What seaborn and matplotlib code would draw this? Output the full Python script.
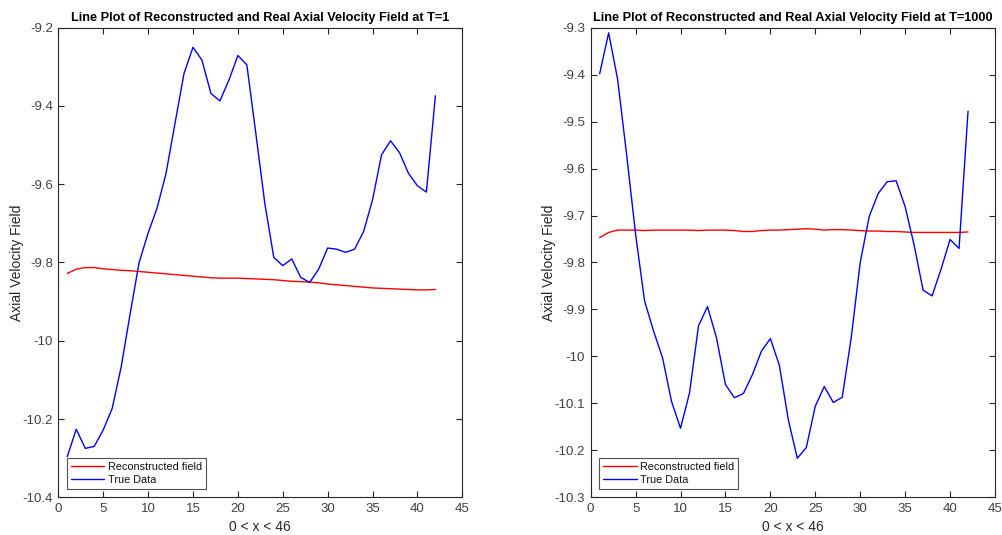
import numpy as np
import pandas as pd
import matplotlib
matplotlib.use("Agg")
import matplotlib.pyplot as plt
import seaborn as sns

# Grid positions along the axis
x_pos = list(range(1, 43))

# T=1 snapshot
recon_t1 = [-9.828, -9.817, -9.813, -9.813, -9.816, -9.818, -9.820, -9.821, -9.823, -9.825,
            -9.827, -9.829, -9.831, -9.833, -9.835, -9.837, -9.839, -9.840, -9.840, -9.840,
            -9.841, -9.842, -9.843, -9.844, -9.846, -9.848, -9.849, -9.850, -9.852, -9.855,
            -9.857, -9.859, -9.861, -9.863, -9.865, -9.866, -9.867, -9.868, -9.869, -9.870,
            -9.870, -9.869]
true_t1 = [-10.296, -10.226, -10.275, -10.270, -10.228, -10.173, -10.067, -9.931, -9.800, -9.725,
           -9.661, -9.572, -9.444, -9.317, -9.250, -9.283, -9.368, -9.387, -9.334, -9.271,
           -9.295, -9.470, -9.649, -9.787, -9.808, -9.791, -9.838, -9.851, -9.817, -9.763,
           -9.766, -9.774, -9.766, -9.721, -9.640, -9.525, -9.489, -9.519, -9.572, -9.604,
           -9.620, -9.374]

# T=1000 snapshot
recon_t1000 = [-9.747, -9.736, -9.731, -9.731, -9.731, -9.732, -9.731, -9.731, -9.731, -9.731,
               -9.731, -9.732, -9.731, -9.731, -9.731, -9.732, -9.734, -9.734, -9.732, -9.731,
               -9.731, -9.730, -9.729, -9.728, -9.729, -9.731, -9.730, -9.730, -9.731, -9.732,
               -9.733, -9.733, -9.734, -9.734, -9.735, -9.736, -9.736, -9.736, -9.736, -9.736,
               -9.736, -9.735]
true_t1000 = [-9.398, -9.311, -9.410, -9.570, -9.740, -9.882, -9.946, -10.003, -10.096, -10.153,
              -10.078, -9.935, -9.894, -9.960, -10.060, -10.088, -10.079, -10.039, -9.989, -9.962,
              -10.019, -10.135, -10.217, -10.194, -10.106, -10.064, -10.098, -10.087, -9.960, -9.800,
              -9.702, -9.653, -9.628, -9.626, -9.681, -9.763, -9.859, -9.871, -9.814, -9.751,
              -9.770, -9.478]

series_names = ["Reconstructed field", "True Data"]
titles = ["Line Plot of Reconstructed and Real Axial Velocity Field at T=1",
          "Line Plot of Reconstructed and Real Axial Velocity Field at T=1000"]
x_ticks = [0, 5, 10, 15, 20, 25, 30, 35, 40, 45]
y_ticks_t1 = [-10.4, -10.2, -10.0, -9.8, -9.6, -9.4, -9.2]
y_ticks_t1000 = [-10.3, -10.2, -10.1, -10.0, -9.9, -9.8, -9.7, -9.6, -9.5, -9.4, -9.3]

sns.set_style("white")
plt.rcParams["font.family"] = ["Liberation Sans", "DejaVu Sans"]

fig = plt.figure(figsize=(10.02, 5.35), dpi=100)
ax1 = fig.add_axes([0.0582, 0.0705, 0.4032, 0.8777])
ax2 = fig.add_axes([0.5895, 0.0705, 0.4035, 0.8777])

palette = {"Reconstructed field": "#ff0000", "True Data": "#0000ff"}

panels = [
    (ax1, recon_t1, true_t1, titles[0], y_ticks_t1),
    (ax2, recon_t1000, true_t1000, titles[1], y_ticks_t1000),
]

for ax, recon, true, title, yt in panels:
    df = pd.DataFrame({
        "x": x_pos * 2,
        "value": recon + true,
        "series": [series_names[0]] * len(recon) + [series_names[1]] * len(true),
    })
    sns.lineplot(data=df, x="x", y="value", hue="series", palette=palette,
                 hue_order=series_names, linewidth=1.0, ax=ax, legend=True)
    ax.set_xlim(0, 45)
    ax.set_ylim(yt[0], yt[-1])
    ax.set_xticks(x_ticks)
    ax.set_xticklabels([str(t) for t in x_ticks])
    ax.set_yticks(yt)
    ax.set_yticklabels(["%g" % t for t in yt])
    ax.tick_params(direction="in", length=4, width=0.8, colors="#262626",
                   labelcolor="#404040", labelsize=9.5, top=True, right=True,
                   left=True, bottom=True, pad=4)
    for sp in ax.spines.values():
        sp.set_visible(True)
        sp.set_color("#262626")
        sp.set_linewidth(0.8)
    ax.set_title(title, fontsize=9.2, fontweight="bold", color="black", pad=5)
    ax.set_xlabel("0 < x < 46", fontsize=10, color="#262626", labelpad=4)
    ax.set_ylabel("Axial Velocity Field", fontsize=10, color="#262626", labelpad=-1)
    leg = ax.legend(loc="lower left", fontsize=7.8, frameon=True, fancybox=False,
                    borderpad=0.35, handlelength=3.1, handletextpad=0.3,
                    labelspacing=0.25, borderaxespad=0.8)
    leg.get_frame().set_edgecolor("#262626")
    leg.get_frame().set_linewidth(0.8)
    for t in leg.get_texts():
        t.set_color("#111111")

fig.savefig("out.png", dpi=100, facecolor="white")
